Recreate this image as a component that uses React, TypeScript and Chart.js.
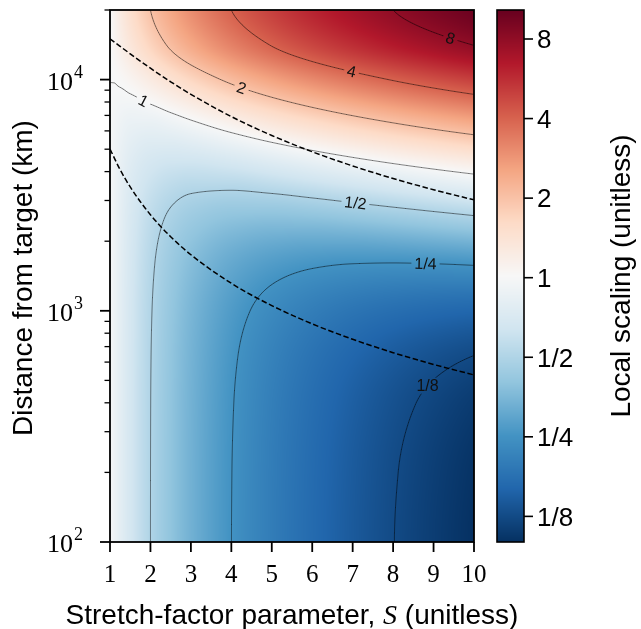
import React, { useEffect, useRef } from "react";
import { Chart, registerables } from "chart.js";

Chart.register(...registerables);

// ---------- data ----------
const S_VALUES = [1, 1.1, 1.25, 1.5, 2, 2.5, 3, 4, 5, 6, 7, 8, 9, 10];
const DISTANCE_KM = [100, 200, 398, 631, 1000, 1585, 2512, 3981, 6310, 10000, 14125, 20000];
// local scaling, one row per distance, one column per S
const LOCAL_SCALING = [
  [1, 0.9091, 0.8, 0.6667, 0.5001, 0.4001, 0.3335, 0.2502, 0.2003, 0.167, 0.1433, 0.1255, 0.1117, 0.1006],
  [1, 0.9091, 0.8001, 0.6669, 0.5004, 0.4005, 0.334, 0.2509, 0.2012, 0.1681, 0.1445, 0.1269, 0.1133, 0.1024],
  [1, 0.9093, 0.8004, 0.6675, 0.5015, 0.402, 0.3359, 0.2537, 0.2047, 0.1724, 0.1496, 0.1327, 0.1198, 0.1097],
  [1, 0.9096, 0.8011, 0.6687, 0.5037, 0.4051, 0.3399, 0.2592, 0.2118, 0.181, 0.1597, 0.1443, 0.1329, 0.1243],
  [1, 0.9103, 0.8028, 0.6718, 0.5092, 0.4129, 0.3497, 0.273, 0.2295, 0.2025, 0.185, 0.1734, 0.1657, 0.1608],
  [1, 0.912, 0.8069, 0.6795, 0.5231, 0.4323, 0.3744, 0.3077, 0.2739, 0.2565, 0.2484, 0.2462, 0.2479, 0.2524],
  [1, 0.9164, 0.8173, 0.6986, 0.5575, 0.4806, 0.4356, 0.3939, 0.3841, 0.3905, 0.4059, 0.4271, 0.4521, 0.4798],
  [1, 0.9271, 0.8425, 0.7454, 0.6417, 0.5984, 0.5853, 0.6043, 0.6535, 0.7178, 0.7907, 0.8691, 0.951, 1.0354],
  [1, 0.9522, 0.9016, 0.8548, 0.8387, 0.8742, 0.9355, 1.0968, 1.2839, 1.4839, 1.6913, 1.9033, 2.1183, 2.3355],
  [1, 1.0044, 1.0247, 1.0828, 1.2491, 1.4488, 1.6651, 2.1228, 2.5972, 3.0799, 3.5674, 4.0578, 4.5503, 5.0441],
  [1, 1.062, 1.1605, 1.3343, 1.7017, 2.0824, 2.4697, 3.2543, 4.0454, 4.8399, 5.6364, 6.4339, 7.2323, 8.0312],
  [1, 1.1, 1.25, 1.5, 2, 2.5, 3, 4, 5, 6, 7, 8, 9, 10],
];

const COLOR_MIN = 0.1;
const COLOR_MAX = 10.3;

const CONTOUR_LEVELS = [0.125, 0.25, 0.5, 1, 2, 4, 8];
const CONTOUR_LABELS = ["1/8", "1/4", "1/2", "1", "2", "4", "8"];
const CONTOUR_LABEL_S = [8.86, 8.79, 7.06, 1.82, 4.26, 6.98, 9.41];
const CONTOUR_LABEL_ROT: (number | null)[] = [0, null, null, null, null, null, null];

const DASH_S = [1, 1.25, 1.5, 2, 2.5, 3, 4, 5, 6, 7, 8, 9, 10];
const UPPER_DASH_KM = [15011, 13927, 12931, 11200, 9785, 8634, 6919, 5732, 4874, 4232, 3735, 3340, 3018];
const LOWER_DASH_KM = [5004, 4077, 3433, 2602, 2092, 1748, 1315, 1053, 878, 753, 659, 586, 528];

const X_TICKS = [1, 2, 3, 4, 5, 6, 7, 8, 9, 10];
const Y_MAJOR = [100, 1000, 10000];
const Y_MAJOR_EXP = ["2", "3", "4"];
const Y_MINOR = [200, 300, 400, 500, 600, 700, 800, 900, 2000, 3000, 4000, 5000, 6000, 7000, 8000, 9000, 20000];
const CBAR_TICKS = [0.125, 0.25, 0.5, 1, 2, 4, 8];
const CBAR_LABELS = ["1/8", "1/4", "1/2", "1", "2", "4", "8"];

const X_TITLE_A = "Stretch-factor parameter, ";
const X_TITLE_S = "S";
const X_TITLE_B = " (unitless)";
const Y_TITLE = "Distance from target (km)";
const CBAR_TITLE = "Local scaling (unitless)";

// ---------- styling ----------
const SANS = '"Liberation Sans", Arial, sans-serif';
const SERIF = '"Liberation Serif", "Times New Roman", serif';
const RDBU_R = [
  [5, 48, 97], [33, 102, 172], [67, 147, 195], [146, 197, 222], [209, 229, 240],
  [247, 247, 247], [253, 219, 199], [244, 165, 130], [214, 96, 77], [178, 24, 43], [103, 0, 31],
];

function cmap(t: number): number[] {
  const c = Math.max(0, Math.min(1, t)) * 10;
  const i = Math.min(9, Math.floor(c));
  const f = c - i;
  const a = RDBU_R[i], b = RDBU_R[i + 1];
  return [a[0] + (b[0] - a[0]) * f, a[1] + (b[1] - a[1]) * f, a[2] + (b[2] - a[2]) * f];
}
const LMIN = Math.log10(COLOR_MIN), LMAX = Math.log10(COLOR_MAX);
const norm = (lf: number) => (lf - LMIN) / (LMAX - LMIN);

function pchip(xs: number[], ys: number[]): number[] {
  const n = xs.length;
  const h: number[] = [], d: number[] = [];
  for (let i = 0; i < n - 1; i++) { h.push(xs[i + 1] - xs[i]); d.push((ys[i + 1] - ys[i]) / h[i]); }
  const m = new Array(n).fill(0);
  for (let i = 1; i < n - 1; i++) {
    if (d[i - 1] * d[i] <= 0) m[i] = 0;
    else {
      const w1 = 2 * h[i] + h[i - 1], w2 = h[i] + 2 * h[i - 1];
      m[i] = (w1 + w2) / (w1 / d[i - 1] + w2 / d[i]);
    }
  }
  const end = (h0: number, h1: number, d0: number, d1: number) => {
    let v = ((2 * h0 + h1) * d0 - h0 * d1) / (h0 + h1);
    if (Math.sign(v) !== Math.sign(d0)) v = 0;
    else if (Math.sign(d0) !== Math.sign(d1) && Math.abs(v) > Math.abs(3 * d0)) v = 3 * d0;
    return v;
  };
  m[0] = end(h[0], h[1], d[0], d[1]);
  m[n - 1] = end(h[n - 2], h[n - 3], d[n - 2], d[n - 3]);
  return m;
}

function herm(xs: number[], ys: number[], ms: number[], x: number): number {
  let i = 0;
  const n = xs.length;
  if (x <= xs[0]) i = 0;
  else if (x >= xs[n - 1]) i = n - 2;
  else { while (i < n - 2 && x > xs[i + 1]) i++; }
  const hh = xs[i + 1] - xs[i];
  const t = Math.max(0, Math.min(1, (x - xs[i]) / hh));
  const t2 = t * t, t3 = t2 * t;
  return (2 * t3 - 3 * t2 + 1) * ys[i] + (t3 - 2 * t2 + t) * hh * ms[i] + (-2 * t3 + 3 * t2) * ys[i + 1] + (t3 - t2) * hh * ms[i + 1];
}

type Field = { left: number; top: number; W: number; H: number; V: Float32Array };

function computeField(chart: any): Field {
  const a = chart.chartArea;
  const xs = chart.scales.x, ys = chart.scales.y;
  const left = Math.round(a.left), top = Math.round(a.top);
  const W = Math.round(a.right) - left, H = Math.round(a.bottom) - top;
  const logD = DISTANCE_KM.map((v) => Math.log10(v));
  const logF = LOCAL_SCALING.map((r) => r.map((v) => Math.log10(v)));
  const cols: number[][] = [], colTan: number[][] = [];
  for (let c = 0; c < S_VALUES.length; c++) {
    const cv = logF.map((r) => r[c]);
    cols.push(cv);
    colTan.push(pchip(logD, cv));
  }
  const sPix = new Float64Array(W);
  for (let i = 0; i < W; i++) sPix[i] = xs.getValueForPixel(left + i + 0.5);
  const V = new Float32Array(W * H);
  for (let j = 0; j < H; j++) {
    const ld = Math.log10(ys.getValueForPixel(top + j + 0.5));
    const rowv = cols.map((cv, c) => herm(logD, cv, colTan[c], ld));
    const rt = pchip(S_VALUES, rowv);
    for (let i = 0; i < W; i++) V[j * W + i] = herm(S_VALUES, rowv, rt, sPix[i]);
  }
  return { left, top, W, H, V };
}

function contourSegments(F: Field, level: number): number[] {
  const { left, top, W, H, V } = F;
  const segs: number[] = [];
  for (let j = 0; j < H - 1; j++) {
    for (let i = 0; i < W - 1; i++) {
      const a = V[j * W + i] - level, b = V[j * W + i + 1] - level;
      const c = V[(j + 1) * W + i + 1] - level, d = V[(j + 1) * W + i] - level;
      const pa = a > 0, pb = b > 0, pc = c > 0, pd = d > 0;
      if (pa === pb && pb === pc && pc === pd) continue;
      const x0 = left + i + 0.5, y0 = top + j + 0.5;
      const p: number[] = [];
      if (pa !== pb) p.push(x0 + a / (a - b), y0);
      if (pb !== pc) p.push(x0 + 1, y0 + b / (b - c));
      if (pc !== pd) p.push(x0 + 1 - c / (c - d), y0 + 1);
      if (pd !== pa) p.push(x0, y0 + 1 - d / (d - a));
      for (let k = 0; k + 3 < p.length; k += 4) segs.push(p[k], p[k + 1], p[k + 2], p[k + 3]);
    }
  }
  return segs;
}

function crossingY(F: Field, i: number, level: number): number | null {
  const { top, W, H, V } = F;
  for (let j = H - 1; j > 0; j--) {
    const lo = V[j * W + i] - level, hi = V[(j - 1) * W + i] - level;
    if (lo <= 0 && hi > 0) return top + j + 0.5 - lo / (lo - hi);
  }
  return null;
}

const heatmapPlugin = {
  id: "heatmapContours",
  beforeDatasetsDraw(chart: any) {
    const ctx: CanvasRenderingContext2D = chart.ctx;
    const a = chart.chartArea;
    const F = computeField(chart);
    const { left, top, W, H, V } = F;
    const off = document.createElement("canvas");
    off.width = W; off.height = H;
    const octx = off.getContext("2d")!;
    const img = octx.createImageData(W, H);
    for (let k = 0; k < W * H; k++) {
      const col = cmap(norm(V[k]));
      img.data[4 * k] = col[0]; img.data[4 * k + 1] = col[1]; img.data[4 * k + 2] = col[2]; img.data[4 * k + 3] = 255;
    }
    octx.putImageData(img, 0, 0);
    ctx.save();
    ctx.drawImage(off, left, top);

    // contour labels
    const xs = chart.scales.x;
    ctx.font = "16px " + SANS;
    const labels = CONTOUR_LEVELS.map((lv, k) => {
      const L = Math.log10(lv);
      const i = Math.round(xs.getPixelForValue(CONTOUR_LABEL_S[k]) - left - 0.5);
      const yc = crossingY(F, i, L);
      const y1 = crossingY(F, Math.max(0, i - 6), L);
      const y2 = crossingY(F, Math.min(W - 1, i + 6), L);
      let ang = 0;
      if (y1 !== null && y2 !== null) ang = Math.atan2(y2 - y1, 12);
      const r = CONTOUR_LABEL_ROT[k];
      if (r !== null) ang = (r * Math.PI) / 180;
      return { text: CONTOUR_LABELS[k], x: left + i + 0.5, y: yc ?? 0, ang, w: ctx.measureText(CONTOUR_LABELS[k]).width };
    });

    // contour lines with gaps under labels
    ctx.beginPath();
    ctx.rect(a.left, a.top, a.right - a.left, a.bottom - a.top);
    for (const lb of labels) {
      const hw = lb.w / 2 + 3, hh = 8;
      const c = Math.cos(lb.ang), s = Math.sin(lb.ang);
      const pts = [[-hw, -hh], [hw, -hh], [hw, hh], [-hw, hh]].map(([u, v]) => [lb.x + u * c - v * s, lb.y + u * s + v * c]);
      ctx.moveTo(pts[0][0], pts[0][1]);
      for (let q = 1; q < 4; q++) ctx.lineTo(pts[q][0], pts[q][1]);
      ctx.closePath();
    }
    ctx.clip("evenodd");
    ctx.strokeStyle = "rgba(0,0,0,0.34)";
    ctx.lineWidth = 0.85;
    ctx.lineCap = "round";
    for (const lv of CONTOUR_LEVELS) {
      const segs = contourSegments(F, Math.log10(lv));
      ctx.beginPath();
      for (let k = 0; k < segs.length; k += 4) {
        ctx.moveTo(segs[k], segs[k + 1]);
        ctx.lineTo(segs[k + 2], segs[k + 3]);
      }
      ctx.stroke();
    }
    ctx.restore();

    ctx.save();
    ctx.fillStyle = "#111";
    ctx.font = "16px " + SANS;
    ctx.textAlign = "center";
    ctx.textBaseline = "middle";
    for (const lb of labels) {
      ctx.save();
      ctx.translate(lb.x, lb.y);
      ctx.rotate(lb.ang);
      ctx.fillText(lb.text, 0, 1);
      ctx.restore();
    }
    ctx.restore();
  },
};

const axesPlugin = {
  id: "axesDecor",
  afterDraw(chart: any) {
    const ctx: CanvasRenderingContext2D = chart.ctx;
    const a = chart.chartArea;
    const xs = chart.scales.x, ys = chart.scales.y;
    ctx.save();
    ctx.strokeStyle = "#000";
    ctx.fillStyle = "#000";
    ctx.lineWidth = 1.8;
    ctx.strokeRect(a.left, a.top, a.right - a.left, a.bottom - a.top);

    // x ticks
    ctx.font = "25px " + SERIF;
    ctx.textAlign = "center";
    ctx.textBaseline = "alphabetic";
    for (const t of X_TICKS) {
      const px = xs.getPixelForValue(t);
      ctx.beginPath(); ctx.moveTo(px, a.bottom); ctx.lineTo(px, a.bottom + 10); ctx.stroke();
      ctx.fillText(String(t), px, a.bottom + 40);
    }
    // y ticks
    for (let k = 0; k < Y_MAJOR.length; k++) {
      const py = ys.getPixelForValue(Y_MAJOR[k]);
      ctx.lineWidth = 1.8;
      ctx.beginPath(); ctx.moveTo(a.left - 10, py); ctx.lineTo(a.left, py); ctx.stroke();
      ctx.textAlign = "left";
      ctx.font = "26px " + SERIF;
      const x0 = 47;
      ctx.fillText("10", x0, py + 10);
      const w = ctx.measureText("10").width;
      ctx.font = "18px " + SERIF;
      ctx.fillText(Y_MAJOR_EXP[k], x0 + w + 1, py - 2);
    }
    ctx.lineWidth = 1.3;
    for (const v of Y_MINOR) {
      const py = ys.getPixelForValue(v);
      ctx.beginPath(); ctx.moveTo(a.left - 5.5, py); ctx.lineTo(a.left, py); ctx.stroke();
    }

    // x title
    ctx.textAlign = "left";
    ctx.font = "28px " + SANS;
    const wA = ctx.measureText(X_TITLE_A).width;
    const wB = ctx.measureText(X_TITLE_B).width;
    ctx.font = "italic 28px " + SERIF;
    const wS = ctx.measureText(X_TITLE_S).width;
    const cx = (a.left + a.right) / 2;
    let xx = cx - (wA + wS + wB) / 2;
    const base = 624;
    ctx.font = "28px " + SANS;
    ctx.fillText(X_TITLE_A, xx, base); xx += wA;
    ctx.font = "italic 28px " + SERIF;
    ctx.fillText(X_TITLE_S, xx, base); xx += wS;
    ctx.font = "28px " + SANS;
    ctx.fillText(X_TITLE_B, xx, base);

    // y title
    ctx.save();
    ctx.translate(32, (a.top + a.bottom) / 2 + 2);
    ctx.rotate(-Math.PI / 2);
    ctx.textAlign = "center";
    ctx.fillText(Y_TITLE, 0, 0);
    ctx.restore();

    // colorbar
    const cbL = 497, cbR = 524, cbT = a.top, cbB = a.bottom;
    const hgt = cbB - cbT;
    for (let y = Math.floor(cbT); y < cbB; y++) {
      const t = (cbB - (y + 0.5)) / hgt;
      const col = cmap(t);
      ctx.fillStyle = `rgb(${Math.round(col[0])},${Math.round(col[1])},${Math.round(col[2])})`;
      ctx.fillRect(cbL, y, cbR - cbL, 1);
    }
    ctx.fillStyle = "#000";
    ctx.lineWidth = 1.6;
    ctx.strokeRect(cbL, cbT, cbR - cbL, hgt);
    ctx.font = "26px " + SANS;
    ctx.textAlign = "left";
    for (let k = 0; k < CBAR_TICKS.length; k++) {
      const py = cbB - norm(Math.log10(CBAR_TICKS[k])) * hgt;
      ctx.beginPath(); ctx.moveTo(cbR, py); ctx.lineTo(cbR + 9, py); ctx.stroke();
      ctx.fillText(CBAR_LABELS[k], 537, py + 9.3);
    }
    ctx.save();
    ctx.font = "28px " + SANS;
    ctx.translate(630, (cbT + cbB) / 2);
    ctx.rotate(-Math.PI / 2);
    ctx.textAlign = "center";
    ctx.fillText(CBAR_TITLE, 0, 0);
    ctx.restore();

    ctx.restore();
  },
};

export default function App() {
  const ref = useRef<HTMLCanvasElement>(null);
  useEffect(() => {
    document.body.style.margin = "0";
    const canvas = ref.current!;
    const dash = (km: number[]) => DASH_S.map((s, i) => ({ x: s, y: km[i] }));
    const chart = new Chart(canvas, {
      type: "line",
      data: {
        datasets: [
          { data: dash(UPPER_DASH_KM), borderColor: "#000", borderWidth: 1.5, borderDash: [5.5, 2.6], pointRadius: 0, cubicInterpolationMode: "monotone", fill: false },
          { data: dash(LOWER_DASH_KM), borderColor: "#000", borderWidth: 1.5, borderDash: [5.5, 2.6], pointRadius: 0, cubicInterpolationMode: "monotone", fill: false },
        ],
      },
      options: {
        responsive: false,
        animation: false,
        devicePixelRatio: 1,
        events: [],
        layout: { padding: { left: 0, top: 10, right: 167, bottom: 0 } },
        plugins: { legend: { display: false }, tooltip: { enabled: false }, title: { display: false } },
        scales: {
          x: {
            type: "linear", min: 1, max: 10,
            ticks: { display: false }, grid: { display: false }, border: { display: false },
            afterFit: (s: any) => { s.height = 87; },
          },
          y: {
            type: "logarithmic", min: 100, max: 20000,
            ticks: { display: false }, grid: { display: false }, border: { display: false },
            afterFit: (s: any) => { s.width = 110; },
          },
        },
      } as any,
      plugins: [heatmapPlugin, axesPlugin],
    });
    return () => chart.destroy();
  }, []);
  return (
    <div style={{ width: 641, height: 629 }}>
      <canvas ref={ref} width={641} height={629} style={{ display: "block", width: 641, height: 629 }} />
    </div>
  );
}
